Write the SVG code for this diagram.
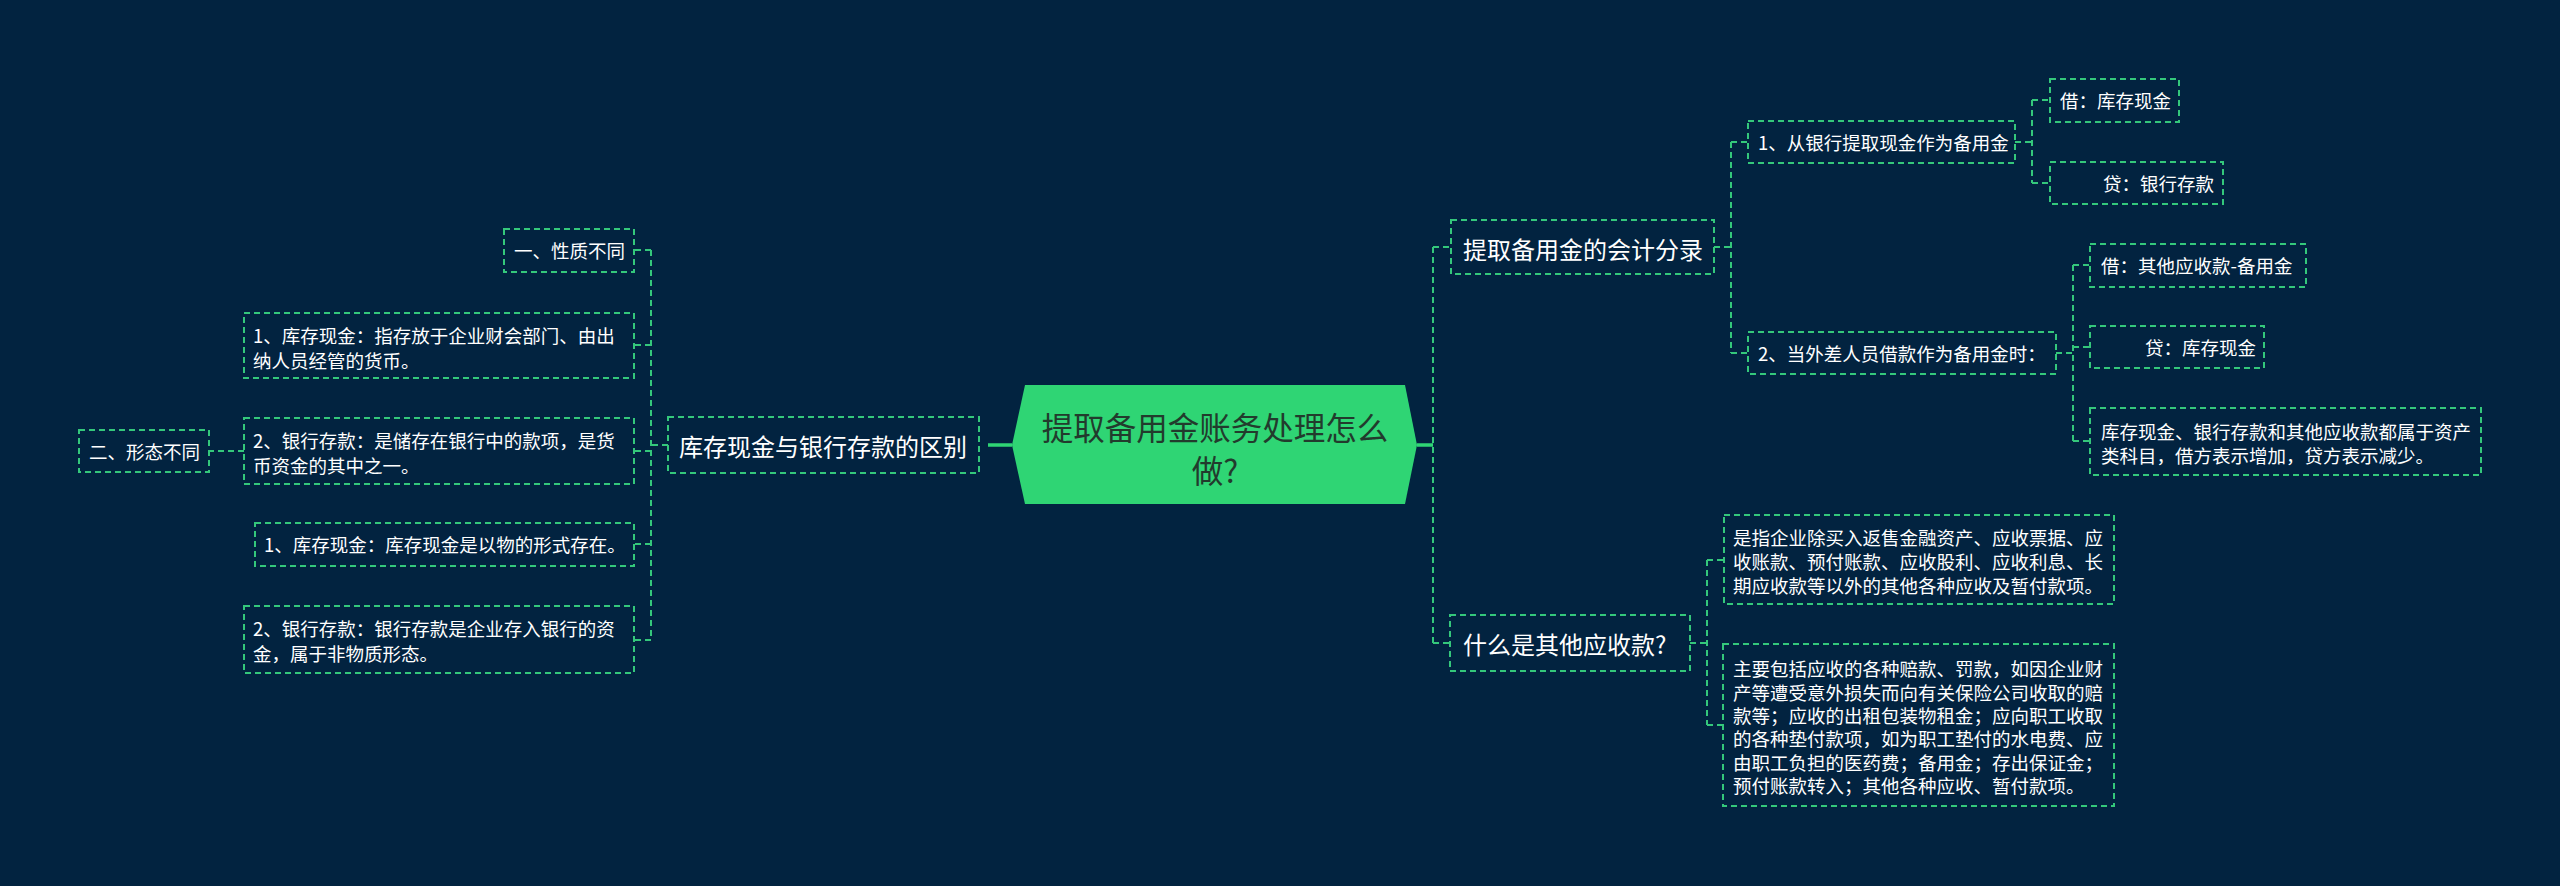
<svg xmlns="http://www.w3.org/2000/svg" width="2560" height="886" viewBox="0 0 2560 886">
<style>
.box{fill:none;stroke:#34c77b;stroke-width:2;stroke-dasharray:6 4}
.con{fill:none;stroke:#34c77b;stroke-width:2;stroke-dasharray:6 4}
.solid{fill:none;stroke:#2fd574;stroke-width:3.5}
text{font-family:"Noto Sans CJK SC","Noto Sans",sans-serif;fill:#ffffff;dominant-baseline:central}
.l{font-size:18.5px}
.m{font-size:24px}
.r{font-size:31.5px;fill:#223b2d}
</style>
<rect width="2560" height="886" fill="#022340"/>
<g id="connectors">
<path class="solid" d="M988,445 H1012 M1417,445 H1433"/>
<path class="con" d="M668,445 H651 M651,250 V640 M651,250 H634 M651,345 H634 M651,451 H634 M651,544 H634 M651,640 H634 M244,451 H209"/>
<path class="con" d="M1433,247 V643 M1433,247 H1451 M1433,643 H1450"/>
<path class="con" d="M1714,247 H1731 M1731,142 V353 M1731,142 H1748 M1731,353 H1748"/>
<path class="con" d="M2015,142 H2032 M2032,100 V183 M2032,100 H2050 M2032,183 H2050"/>
<path class="con" d="M2056,353 H2073 M2073,265 V441 M2073,265 H2090 M2073,347 H2090 M2073,441 H2090"/>
<path class="con" d="M1690,643 H1707 M1707,560 V725 M1707,560 H1723 M1707,725 H1723"/>
</g>
<g id="root">
<polygon points="1012,445 1025,385 1405,385 1417,445 1405,504 1025,504" fill="#2fd574"/>
<text class="r" x="1215" y="426" text-anchor="middle">提取备用金账务处理怎么</text>
<text class="r" x="1215" y="469" text-anchor="middle">做?</text>
</g>
<g id="n-left">
<rect class="box" x="668" y="417" width="311" height="56"/>
<text class="m" x="679" y="445">库存现金与银行存款的区别</text>
</g>
<g id="n-xingzhi">
<rect class="box" x="504" y="229" width="130" height="43"/>
<text class="l" x="514" y="250">一、性质不同</text>
</g>
<g id="n-xianjin1">
<rect class="box" x="244" y="313" width="390" height="65"/>
<text class="l" x="253" y="335">1、库存现金：指存放于企业财会部门、由出</text>
<text class="l" x="253" y="360">纳人员经管的货币。</text>
</g>
<g id="n-cunkuan1">
<rect class="box" x="244" y="418" width="390" height="66"/>
<text class="l" x="253" y="440">2、银行存款：是储存在银行中的款项，是货</text>
<text class="l" x="253" y="465">币资金的其中之一。</text>
</g>
<g id="n-xingtai">
<rect class="box" x="79" y="430" width="130" height="42"/>
<text class="l" x="89" y="451">二、形态不同</text>
</g>
<g id="n-xianjin2">
<rect class="box" x="255" y="523" width="379" height="43"/>
<text class="l" x="264" y="544">1、库存现金：库存现金是以物的形式存在。</text>
</g>
<g id="n-cunkuan2">
<rect class="box" x="244" y="606" width="390" height="67"/>
<text class="l" x="253" y="628">2、银行存款：银行存款是企业存入银行的资</text>
<text class="l" x="253" y="653">金，属于非物质形态。</text>
</g>
<g id="n-fenlu">
<rect class="box" x="1451" y="220" width="263" height="54"/>
<text class="m" x="1463" y="248">提取备用金的会计分录</text>
</g>
<g id="n-qita">
<rect class="box" x="1450" y="615" width="240" height="56"/>
<text class="m" x="1463" y="643">什么是其他应收款?</text>
</g>
<g id="n-yinhang">
<rect class="box" x="1748" y="121" width="267" height="42"/>
<text class="l" x="1758" y="142">1、从银行提取现金作为备用金</text>
</g>
<g id="n-chuchai">
<rect class="box" x="1748" y="332" width="308" height="42"/>
<text class="l" x="1758" y="353">2、当外差人员借款作为备用金时：</text>
</g>
<g id="n-jie1">
<rect class="box" x="2050" y="79" width="129" height="43"/>
<text class="l" x="2060" y="100">借：库存现金</text>
</g>
<g id="n-dai1">
<rect class="box" x="2050" y="162" width="173" height="42"/>
<text class="l" x="2103" y="183">贷：银行存款</text>
</g>
<g id="n-jie2">
<rect class="box" x="2090" y="244" width="216" height="43"/>
<text class="l" x="2101" y="265">借：其他应收款-备用金</text>
</g>
<g id="n-dai2">
<rect class="box" x="2090" y="326" width="174" height="42"/>
<text class="l" x="2145" y="347">贷：库存现金</text>
</g>
<g id="n-zichan">
<rect class="box" x="2090" y="408" width="391" height="67"/>
<text class="l" x="2101" y="431">库存现金、银行存款和其他应收款都属于资产</text>
<text class="l" x="2101" y="455">类科目，借方表示增加，贷方表示减少。</text>
</g>
<g id="n-shizhi">
<rect class="box" x="1724" y="515" width="390" height="89"/>
<text class="l" x="1733" y="537">是指企业除买入返售金融资产、应收票据、应</text>
<text class="l" x="1733" y="561">收账款、预付账款、应收股利、应收利息、长</text>
<text class="l" x="1733" y="585">期应收款等以外的其他各种应收及暂付款项。</text>
</g>
<g id="n-zhuyao">
<rect class="box" x="1723" y="644" width="391" height="162"/>
<text class="l" x="1733" y="668">主要包括应收的各种赔款、罚款，如因企业财</text>
<text class="l" x="1733" y="692">产等遭受意外损失而向有关保险公司收取的赔</text>
<text class="l" x="1733" y="715">款等；应收的出租包装物租金；应向职工收取</text>
<text class="l" x="1733" y="738">的各种垫付款项，如为职工垫付的水电费、应</text>
<text class="l" x="1733" y="762">由职工负担的医药费；备用金；存出保证金；</text>
<text class="l" x="1733" y="785">预付账款转入；其他各种应收、暂付款项。</text>
</g>
</svg>
